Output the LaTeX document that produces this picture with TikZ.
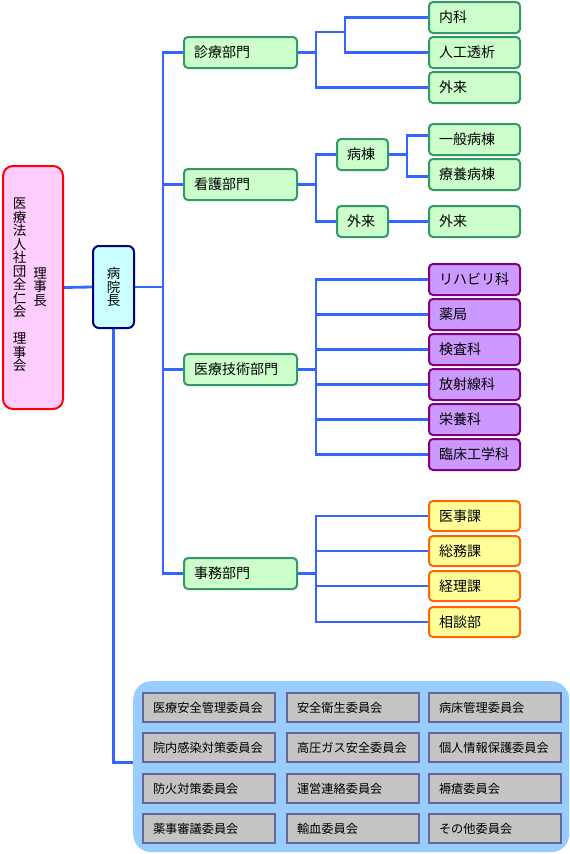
\documentclass[tikz,border=0pt]{standalone}
\usepackage{fontspec}
\newfontfamily\jp{Noto Sans CJK JP}
\usetikzlibrary{backgrounds}
\definecolor{linec}{HTML}{3366FF}
\definecolor{gfill}{HTML}{CCFFCC}
\definecolor{gdraw}{HTML}{339966}
\definecolor{pfill}{HTML}{CC99FF}
\definecolor{pdraw}{HTML}{800080}
\definecolor{yfill}{HTML}{FFFF99}
\definecolor{ydraw}{HTML}{FF6600}
\definecolor{rfill}{HTML}{FFCCFF}
\definecolor{rdraw}{HTML}{FF0000}
\definecolor{cfill}{HTML}{CCFFFF}
\definecolor{cdraw}{HTML}{000080}
\definecolor{panelc}{HTML}{99CCFF}
\definecolor{kfill}{HTML}{C4C4C4}
\definecolor{kdraw}{HTML}{666699}
\tikzset{
  conn/.style={draw=linec, line width=2.8pt, line cap=rect},
  base/.style={rounded corners=4pt, line width=2pt, font=\jp\fontsize{14}{16}\selectfont,
    inner xsep=10pt, inner ysep=1pt, anchor=north west, align=left},
  dept/.style={base, fill=gfill, draw=gdraw, text width=93pt, minimum height=31pt},
  gleaf/.style={base, fill=gfill, draw=gdraw, text width=71pt, minimum height=31pt},
  gmid/.style={base, fill=gfill, draw=gdraw, text width=31pt, minimum height=31pt},
  pleaf/.style={base, fill=pfill, draw=pdraw, text width=71pt, minimum height=31pt},
  yleaf/.style={base, fill=yfill, draw=ydraw, text width=71pt, minimum height=30pt},
  cbox/.style={base, rounded corners=0pt, fill=kfill, draw=kdraw, text width=112pt,
    minimum height=29pt, font=\jp\fontsize{12.2}{14}\selectfont},
  vtext/.style={font=\jp\fontsize{13.5}{13.5}\selectfont, align=center, inner sep=0pt},
}
\begin{document}
\begin{tikzpicture}[x=1pt,y=-1pt]
\useasboundingbox (0,0) rectangle (570,854);

% top level
\node[anchor=north west, rounded corners=10pt, line width=2pt, fill=rfill, draw=rdraw,
  minimum width=60pt, minimum height=243pt, inner sep=0pt] (rijikai) at (2,165) {};
\node[vtext] (rjL) at (19.5,285) {医\\療\\法\\人\\社\\団\\全\\仁\\会\\　\\理\\事\\会};
\node[vtext] (rjR) at (40,287) {理\\事\\長};
\node[anchor=north west, rounded corners=6pt, line width=2pt, fill=cfill, draw=cdraw,
  minimum width=41pt, minimum height=82pt, inner sep=0pt] (incho) at (92,245) {};
\node[vtext] (inchoT) at (incho.center) {病\\院\\長};

% departments
\node[dept] (shinryo) at (183,36) {診療部門};
\node[dept] (kango) at (183,168) {看護部門};
\node[dept] (giken) at (183,353) {医療技術部門};
\node[dept] (jimu) at (183,557) {事務部門};

% shinryo leaves
\node[gleaf] (naika) at (428,1) {内科};
\node[gleaf] (jinko) at (428,36) {人工透析};
\node[gleaf] (gairaiA) at (428,71) {外来};

% kango
\node[gmid] (byoto) at (336,138) {病棟};
\node[gmid] (gairaiB) at (336,205) {外来};
\node[gleaf] (ippan) at (428,123) {一般病棟};
\node[gleaf] (ryoyo) at (428,158) {療養病棟};
\node[gleaf] (gairaiC) at (428,205) {外来};

% giken
\node[pleaf] (reha) at (428,263) {リハビリ科};
\node[pleaf] (yakkyoku) at (428,298) {薬局};
\node[pleaf] (kensa) at (428,333) {検査科};
\node[pleaf] (hosha) at (428,368) {放射線科};
\node[pleaf] (eiyo) at (428,403) {栄養科};
\node[pleaf] (rinsho) at (428,438) {臨床工学科};

% jimu
\node[yleaf] (ijika) at (428,500) {医事課};
\node[yleaf] (somu) at (428,535) {総務課};
\node[yleaf] (keiri) at (428,570) {経理課};
\node[yleaf] (sodan) at (428,606) {相談部};

% committees
\node[anchor=north west, rounded corners=18pt, fill=panelc, minimum width=436pt,
  minimum height=171pt, inner sep=0pt] (panel) at (133,681) {};
\node[cbox] (c11) at (142,692) {医療安全管理委員会};
\node[cbox] (c12) at (286,692) {安全衛生委員会};
\node[cbox] (c13) at (428,692) {病床管理委員会};
\node[cbox] (c21) at (142,732) {院内感染対策委員会};
\node[cbox] (c22) at (286,732) {高圧ガス安全委員会};
\node[cbox] (c23) at (428,732) {個人情報保護委員会};
\node[cbox] (c31) at (142,773) {防火対策委員会};
\node[cbox] (c32) at (286,773) {運営連絡委員会};
\node[cbox] (c33) at (428,773) {褥瘡委員会};
\node[cbox] (c41) at (142,813) {薬事審議委員会};
\node[cbox] (c42) at (286,813) {輸血委員会};
\node[cbox] (c43) at (428,813) {その他委員会};

% junction coordinates
\coordinate (tA) at (163,300);
\coordinate (sA) at (316,32);
\coordinate (sB) at (345,32);
\coordinate (kA) at (316,190);
\coordinate (bA) at (407,154);
\coordinate (gA) at (316,368);
\coordinate (jA) at (316,570);

\begin{pgfonlayer}{background}
\draw[conn] (rijikai.east) -- (incho.west);
\draw[conn] (shinryo.west) -| (tA) |- (jimu.west);
\draw[conn] (incho.east) -- (incho.east -| tA);
\draw[conn] (kango.west) -- (kango.west -| tA);
\draw[conn] (giken.west) -- (giken.west -| tA);
\draw[conn] (incho.south) |- ([yshift=4pt]panel.west);
% shinryo
\draw[conn] (shinryo.east) -- (shinryo.east -| sA);
\draw[conn] (naika.west) -| (sB) |- (jinko.west);
\draw[conn] (sB) -- (sA) |- (gairaiA.west);
% kango
\draw[conn] (byoto.west) -| (kA) |- (gairaiB.west);
\draw[conn] (kango.east) -- (kango.east -| kA);
\draw[conn] ([yshift=4pt]ippan.west) -| (bA) |- ([yshift=-2pt]ryoyo.west);
\draw[conn] (byoto.east) -- (byoto.east -| bA);
\draw[conn] (gairaiB.east) -- (gairaiC.west);
% giken
\draw[conn] (reha.west) -| (gA) |- (rinsho.west);
\draw[conn] (giken.east) -- (giken.east -| gA);
\draw[conn] (yakkyoku.west) -- (yakkyoku.west -| gA);
\draw[conn] (kensa.west) -- (kensa.west -| gA);
\draw[conn] (hosha.west) -- (hosha.west -| gA);
\draw[conn] (eiyo.west) -- (eiyo.west -| gA);
% jimu
\draw[conn] (ijika.west) -| (jA) |- (sodan.west);
\draw[conn] (jimu.east) -- (jimu.east -| jA);
\draw[conn] (somu.west) -- (somu.west -| jA);
\draw[conn] (keiri.west) -- (keiri.west -| jA);
\end{pgfonlayer}
\end{tikzpicture}
\end{document}
